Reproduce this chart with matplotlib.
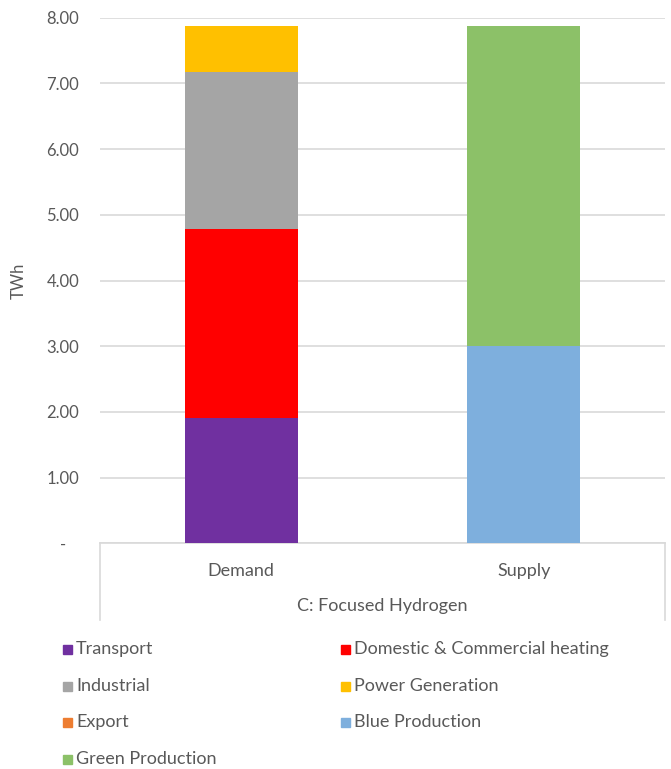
import matplotlib
matplotlib.use("Agg")
import matplotlib.pyplot as plt
from matplotlib.patches import Rectangle
from matplotlib.lines import Line2D

plt.rcParams['font.family'] = ['Lato', 'DejaVu Sans']

# --- data -------------------------------------------------------------
categories = ["Demand", "Supply"]
group_label = "C: Focused Hydrogen"
series_names = ["Transport", "Domestic & Commercial heating", "Industrial",
                "Power Generation", "Export", "Blue Production", "Green Production"]
transport = [1.90, 0.0]
domestic_heating = [2.88, 0.0]
industrial = [2.40, 0.0]
power_generation = [0.70, 0.0]
export = [0.0, 0.0]
blue_production = [0.0, 3.00]
green_production = [0.0, 4.88]
y_ticks = [0, 1, 2, 3, 4, 5, 6, 7, 8]
y_label = "TWh"

colors = ["#7030A0", "#FF0000", "#A5A5A5", "#FFC000", "#ED7D31", "#7EAFDD", "#8CC168"]
series_values = [transport, domestic_heating, industrial, power_generation,
                 export, blue_production, green_production]

# --- figure -----------------------------------------------------------
W, H = 671, 769
fig = plt.figure(figsize=(W / 100, H / 100), dpi=100)
ax_left, ax_right, ax_top, ax_bottom = 100, 665, 17.7, 543.3
ax = fig.add_axes([ax_left / W, 1 - ax_bottom / H,
                   (ax_right - ax_left) / W, (ax_bottom - ax_top) / H])

text_color = "#595959"
grid_color = "#D9D9D9"
fs = 13

x = list(range(len(categories)))
bottom = [0.0] * len(categories)
for vals, col in zip(series_values, colors):
    ax.bar(x, vals, width=0.4, bottom=bottom, color=col, edgecolor="none", zorder=3)
    bottom = [b + v for b, v in zip(bottom, vals)]

ax.set_xlim(-0.5, 1.5)
ax.set_ylim(0, 8)
ax.set_yticks(y_ticks)
ax.set_yticklabels([f"{t:.2f}" if t else "-   " for t in y_ticks])
ax.tick_params(axis="y", length=0, pad=15, labelsize=12, labelcolor=text_color)
ax.set_xticks([])
ax.yaxis.grid(True, color=grid_color, linewidth=1.2, zorder=0)
for s in ["left", "right", "top"]:
    ax.spines[s].set_visible(False)
ax.spines["bottom"].set_color(grid_color)
ax.spines["bottom"].set_linewidth(1.2)
ax.set_ylabel(y_label, fontsize=12, color=text_color, labelpad=14)

# multi-level category axis
def fy(py):
    return 1 - py / H

def fx(px):
    return px / W

for px in (ax_left, ax_right):
    fig.add_artist(Line2D([fx(px), fx(px)], [fy(ax_bottom), fy(620)],
                          color=grid_color, linewidth=1.2))
for xi, cat in zip(x, categories):
    ax.text(xi, -0.42, cat, ha="center", va="center", fontsize=fs,
            color=text_color, transform=ax.transData, clip_on=False)
fig.text(fx((ax_left + ax_right) / 2), fy(606), group_label, ha="center",
         va="center", fontsize=fs, color=text_color)

# legend
legend_order = [0, 1, 2, 3, 4, 5, 6]
col_x = [63, 341]
row_y = [649, 686, 722, 759]
sq = 9
for k, idx in enumerate(legend_order):
    r, c = divmod(k, 2)
    px, py = col_x[c], row_y[r]
    fig.add_artist(Rectangle((fx(px), fy(py + sq / 2)), sq / W, sq / H,
                             transform=fig.transFigure, color=colors[idx]))
    fig.text(fx(px + sq + 4), fy(py), series_names[idx], ha="left", va="center",
             fontsize=fs, color=text_color)

fig.savefig("out.png", dpi=100)
